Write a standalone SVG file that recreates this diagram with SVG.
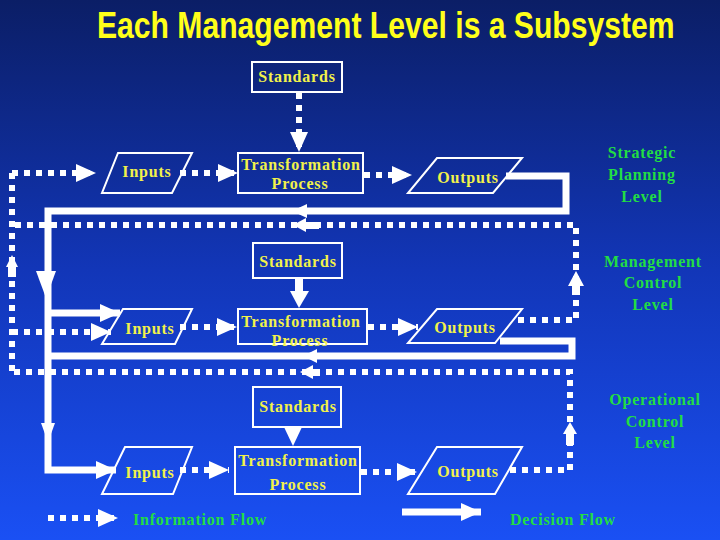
<svg xmlns="http://www.w3.org/2000/svg" width="720" height="540" viewBox="0 0 720 540">
<defs>
<linearGradient id="bg" x1="0" y1="0" x2="0" y2="1">
<stop offset="0" stop-color="#0b1e66"/>
<stop offset="0.5" stop-color="#1236b8"/>
<stop offset="1" stop-color="#1a50f4"/>
</linearGradient>
<marker id="head" viewBox="0 0 20 18" markerWidth="20" markerHeight="18" refX="20" refY="9" orient="auto" markerUnits="userSpaceOnUse">
<path d="M0,0 L20,9 L0,18 Z" fill="#fff"/>
</marker>
<style>
.box{fill:none;stroke:#fff;stroke-width:2}
.lbl{font-family:"Liberation Serif","Times New Roman",serif;font-weight:bold;font-size:16px;letter-spacing:0.8px;fill:#f2f24a;text-anchor:middle}
.lvl{font-family:"Liberation Serif","Times New Roman",serif;font-weight:bold;font-size:16px;letter-spacing:0.8px;fill:#22dd44;text-anchor:middle}
.dot{fill:none;stroke:#fff;stroke-width:6;stroke-dasharray:6 6}
.sol{fill:none;stroke:#fff;stroke-width:7}
.ah{fill:#fff}
</style>
</defs>
<rect width="720" height="540" fill="url(#bg)"/>
<g id="title" transform="translate(97,38) scale(0.8,1)">
<text x="0" y="0" textLength="722" lengthAdjust="spacingAndGlyphs" style="font-family:'Liberation Sans',Arial,sans-serif;font-weight:bold;font-size:37px;fill:#ffff1a">Each Management Level is a Subsystem</text>
</g>
<g id="connectors">
<path class="dot" d="M12,173 H96" marker-end="url(#head)"/>
<path class="dot" d="M12,173 V372"/>
<path class="dot" d="M518,320 H576 V225 H12"/>
<path class="dot" d="M12,332 H111" marker-end="url(#head)"/>
<path class="dot" d="M510,470 H570 V372 H12"/>
<path class="dot" d="M180,173 H238" marker-end="url(#head)"/>
<path class="dot" d="M364,175 H412" marker-end="url(#head)"/>
<path class="dot" d="M299,93 V152" marker-end="url(#head)"/>
<path class="dot" d="M180,327 H237" marker-end="url(#head)"/>
<path class="dot" d="M368,327 H418" marker-end="url(#head)"/>
<path class="dot" d="M180,470 H229" marker-end="url(#head)"/>
<path class="dot" d="M361,472 H417" marker-end="url(#head)"/>
<path class="sol" d="M506,176 H566 V211 H48 V470 H116" marker-end="url(#head)"/>
<path class="sol" d="M48,313 H120" marker-end="url(#head)"/>
<path class="sol" d="M500,341 H572 V356 H48"/>
<rect class="ah" x="295" y="278" width="8" height="14"/>
<polygon class="ah" points="290,291 309,291 299,308"/>
<polygon class="ah" points="284,427 302,427 293,446"/>
<polygon class="ah" points="36,271 56,271 46,298"/>
<polygon class="ah" points="41,423 55,423 48,442"/>
<polygon class="ah" points="292,211 307,204 307,218"/>
<polygon class="ah" points="293,225 306,218 306,232"/>
<rect class="ah" x="305" y="222" width="14" height="7"/>
<polygon class="ah" points="303,356 317,349 317,363"/>
<polygon class="ah" points="300,372 313,365 313,379"/>
<rect class="ah" x="312" y="369" width="8" height="7"/>
<polygon class="ah" points="576,271 568,286 584,286"/>
<rect class="ah" x="572" y="285" width="8" height="10"/>
<polygon class="ah" points="570,422 563,434 577,434"/>
<rect class="ah" x="566" y="433" width="8" height="12"/>
<polygon class="ah" points="12,255 6,267 18,267"/>
<rect class="ah" x="8" y="266" width="8" height="11"/>
</g>
<g id="standards1"><rect class="box" x="252" y="62" width="90" height="30"/><text class="lbl" x="297" y="82">Standards</text></g>
<g id="inputs1"><polygon class="box" points="118,153 192,153 172,193 102,193"/><text class="lbl" x="147" y="177">Inputs</text></g>
<g id="transform1"><rect class="box" x="238" y="153" width="125" height="40"/><text class="lbl" x="301" y="170">Transformation</text><text class="lbl" x="300" y="189">Process</text></g>
<g id="outputs1"><polygon class="box" points="437,158 522,158 493,193 408,193"/><text class="lbl" x="468" y="183">Outputs</text></g>
<g id="strategic"><text class="lvl" x="642" y="158">Strategic</text><text class="lvl" x="642" y="180">Planning</text><text class="lvl" x="642" y="202">Level</text></g>
<g id="standards2"><rect class="box" x="253" y="243" width="89" height="35"/><text class="lbl" x="298" y="267">Standards</text></g>
<g id="inputs2"><polygon class="box" points="123,309 192,309 175,344 102,344"/><text class="lbl" x="150" y="334">Inputs</text></g>
<g id="transform2"><rect class="box" x="238" y="309" width="129" height="35"/><text class="lbl" x="301" y="327">Transformation</text><text class="lbl" x="300" y="346">Process</text></g>
<g id="outputs2"><polygon class="box" points="437,309 522,309 495,343 408,343"/><text class="lbl" x="465" y="333">Outputs</text></g>
<g id="management"><text class="lvl" x="653" y="267">Management</text><text class="lvl" x="653" y="288">Control</text><text class="lvl" x="653" y="310">Level</text></g>
<g id="standards3"><rect class="box" x="253" y="387" width="88" height="40"/><text class="lbl" x="298" y="412">Standards</text></g>
<g id="inputs3"><polygon class="box" points="125,447 192,447 173,494 102,494"/><text class="lbl" x="150" y="478">Inputs</text></g>
<g id="transform3"><rect class="box" x="235" y="447" width="125" height="47"/><text class="lbl" x="298" y="466">Transformation</text><text class="lbl" x="298" y="490">Process</text></g>
<g id="outputs3"><polygon class="box" points="437,447 522,447 495,494 408,494"/><text class="lbl" x="468" y="477">Outputs</text></g>
<g id="operational"><text class="lvl" x="655" y="405">Operational</text><text class="lvl" x="655" y="427">Control</text><text class="lvl" x="655" y="448">Level</text></g>
<g id="legend">
<path class="dot" d="M48,518 H118" marker-end="url(#head)"/>
<text class="lvl" x="200" y="525">Information Flow</text>
<path class="sol" d="M402,512 H481" marker-end="url(#head)"/>
<text class="lvl" x="563" y="525">Decision Flow</text>
</g>
</svg>
